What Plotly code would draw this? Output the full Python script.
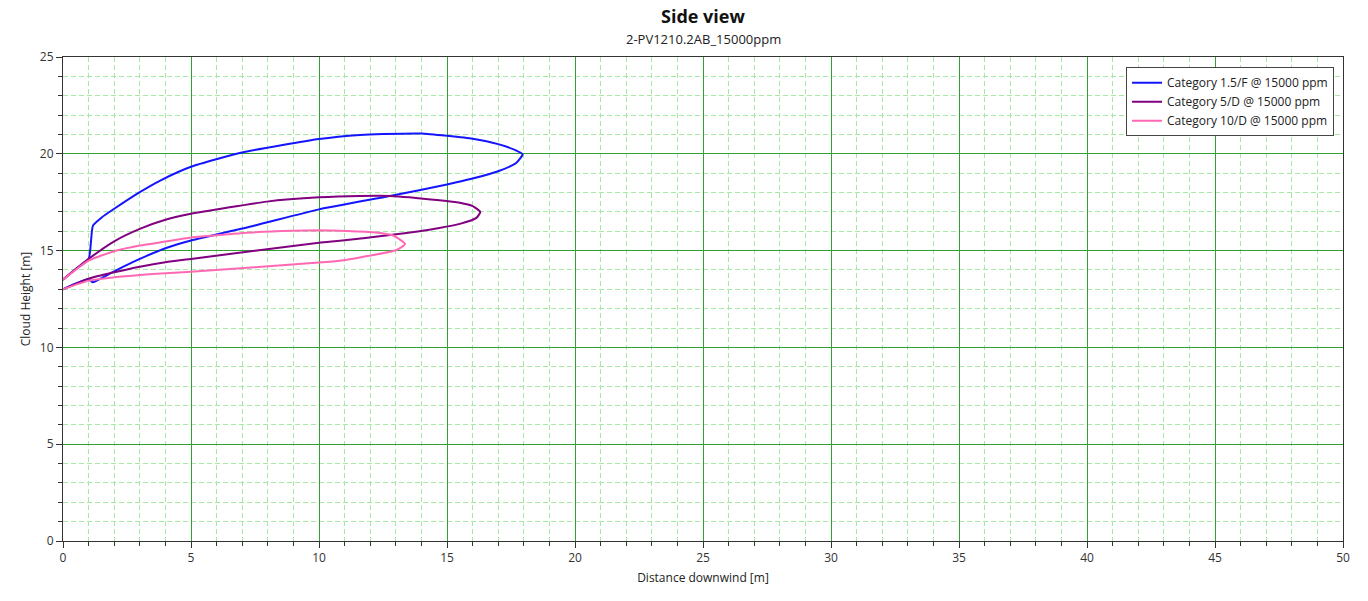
import plotly.graph_objects as go

# Category 1.5/F (upper edge from source to tip, then lower edge back)
cat15F_x = [0, 0.5, 1.0, 1.17, 1.5, 2, 3, 3.8, 5, 7.04, 10, 11.6, 12.5, 14, 15, 16, 17, 17.65, 17.95,
            17.7, 17, 16, 15, 12.77, 10, 7.5, 5, 4, 3, 2, 1.56, 1.17, 1.0, 0.6, 0]
cat15F_y = [13.5, 14.05, 14.55, 16.29, 16.7, 17.16, 18.02, 18.62, 19.33, 20.08, 20.76, 20.97, 21.02, 21.05, 20.93, 20.78, 20.5, 20.2, 19.97,
            19.52, 19.1, 18.72, 18.41, 17.82, 17.13, 16.3, 15.52, 15.12, 14.57, 13.93, 13.62, 13.36, 13.53, 13.35, 13.0]

# Category 5/D
cat5D_x = [0, 1, 2, 3, 4, 5, 7.96, 10, 11.6, 12.77, 14.7, 15.5, 16, 16.3,
           16.15, 15.5, 14.7, 12.77, 10.82, 10, 5, 4, 3, 2, 1, 0]
cat5D_y = [13.5, 14.57, 15.48, 16.12, 16.59, 16.9, 17.53, 17.75, 17.82, 17.82, 17.6, 17.47, 17.3, 17.0,
           16.69, 16.38, 16.17, 15.8, 15.51, 15.41, 14.57, 14.4, 14.17, 13.88, 13.55, 13.0]

# Category 10/D
cat10D_x = [0, 1, 2, 3, 4, 5, 7.5, 9, 10, 10.82, 12.12, 12.9, 13.36,
            13.03, 12.12, 10.82, 10, 5, 4, 3, 2, 1, 0]
cat10D_y = [13.5, 14.48, 14.97, 15.26, 15.47, 15.68, 15.95, 16.03, 16.05, 16.03, 15.95, 15.78, 15.34,
            15.03, 14.77, 14.48, 14.38, 13.91, 13.83, 13.74, 13.62, 13.45, 13.0]

series_names = ["Category 1.5/F @ 15000 ppm", "Category 5/D @ 15000 ppm", "Category 10/D @ 15000 ppm"]
series_colors = ["#1414FF", "#800080", "#FF69B4"]

x_range = [0, 50]
y_range = [0, 25]
major_step = 5
minor_step = 1

FONT = "Open Sans, Noto Sans, sans-serif"
MAJOR_GRID = "#33A033"
MINOR_GRID = "#A6E8A6"

fig = go.Figure()
for xs, ys, name, col in zip([cat15F_x, cat5D_x, cat10D_x], [cat15F_y, cat5D_y, cat10D_y],
                             series_names, series_colors):
    fig.add_trace(go.Scatter(x=xs, y=ys, mode="lines", name=name,
                             line=dict(color=col, width=2, shape="spline", smoothing=0.5)))

def axis_style(title, rng, standoff):
    return dict(
        range=rng, tickmode="linear", tick0=0, dtick=major_step,
        showline=True, linecolor="#333333", linewidth=1, mirror=True,
        ticks="outside", ticklen=6, tickcolor="#333333", tickwidth=1,
        showgrid=True, gridcolor=MAJOR_GRID, gridwidth=1,
        zeroline=False,
        tickfont=dict(family=FONT, size=12, color="#333333"),
        title=dict(text=title, font=dict(family=FONT, size=12, color="#222222"), standoff=standoff),
        minor=dict(dtick=minor_step, tick0=0, showgrid=True, gridcolor=MINOR_GRID, griddash="5px,3px", gridwidth=1,
                   ticks="outside", ticklen=4, tickcolor="#333333"),
    )

fig.update_layout(
    xaxis=axis_style("Distance downwind [m]", x_range, 8),
    yaxis=axis_style("Cloud Height [m]", y_range, 6),
)

H = 601
MT, MB = 57, 60
ph = H - MT - MB

fig.update_layout(
    width=1368, height=601,
    margin=dict(l=63, r=25, t=MT, b=MB),
    paper_bgcolor="white", plot_bgcolor="white",
    showlegend=True,
    legend=dict(x=0.993, y=0.979, xanchor="right", yanchor="top",
                bgcolor="white", bordercolor="#444444", borderwidth=1,
                font=dict(family=FONT, size=12, color="#222222"),
                tracegroupgap=0, itemwidth=30),
    annotations=[
        dict(text="<b>Side view</b>", x=0.5, xref="paper", y=(H - MB - 16) / ph, yref="paper",
             yanchor="middle", showarrow=False,
             font=dict(family=FONT, size=18, color="#111111")),
        dict(text="2-PV1210.2AB_15000ppm", x=0.5, xref="paper", y=(H - MB - 39) / ph, yref="paper",
             yanchor="middle", showarrow=False,
             font=dict(family=FONT, size=13, color="#222222")),
    ],
)

fig.write_html("out.html")
